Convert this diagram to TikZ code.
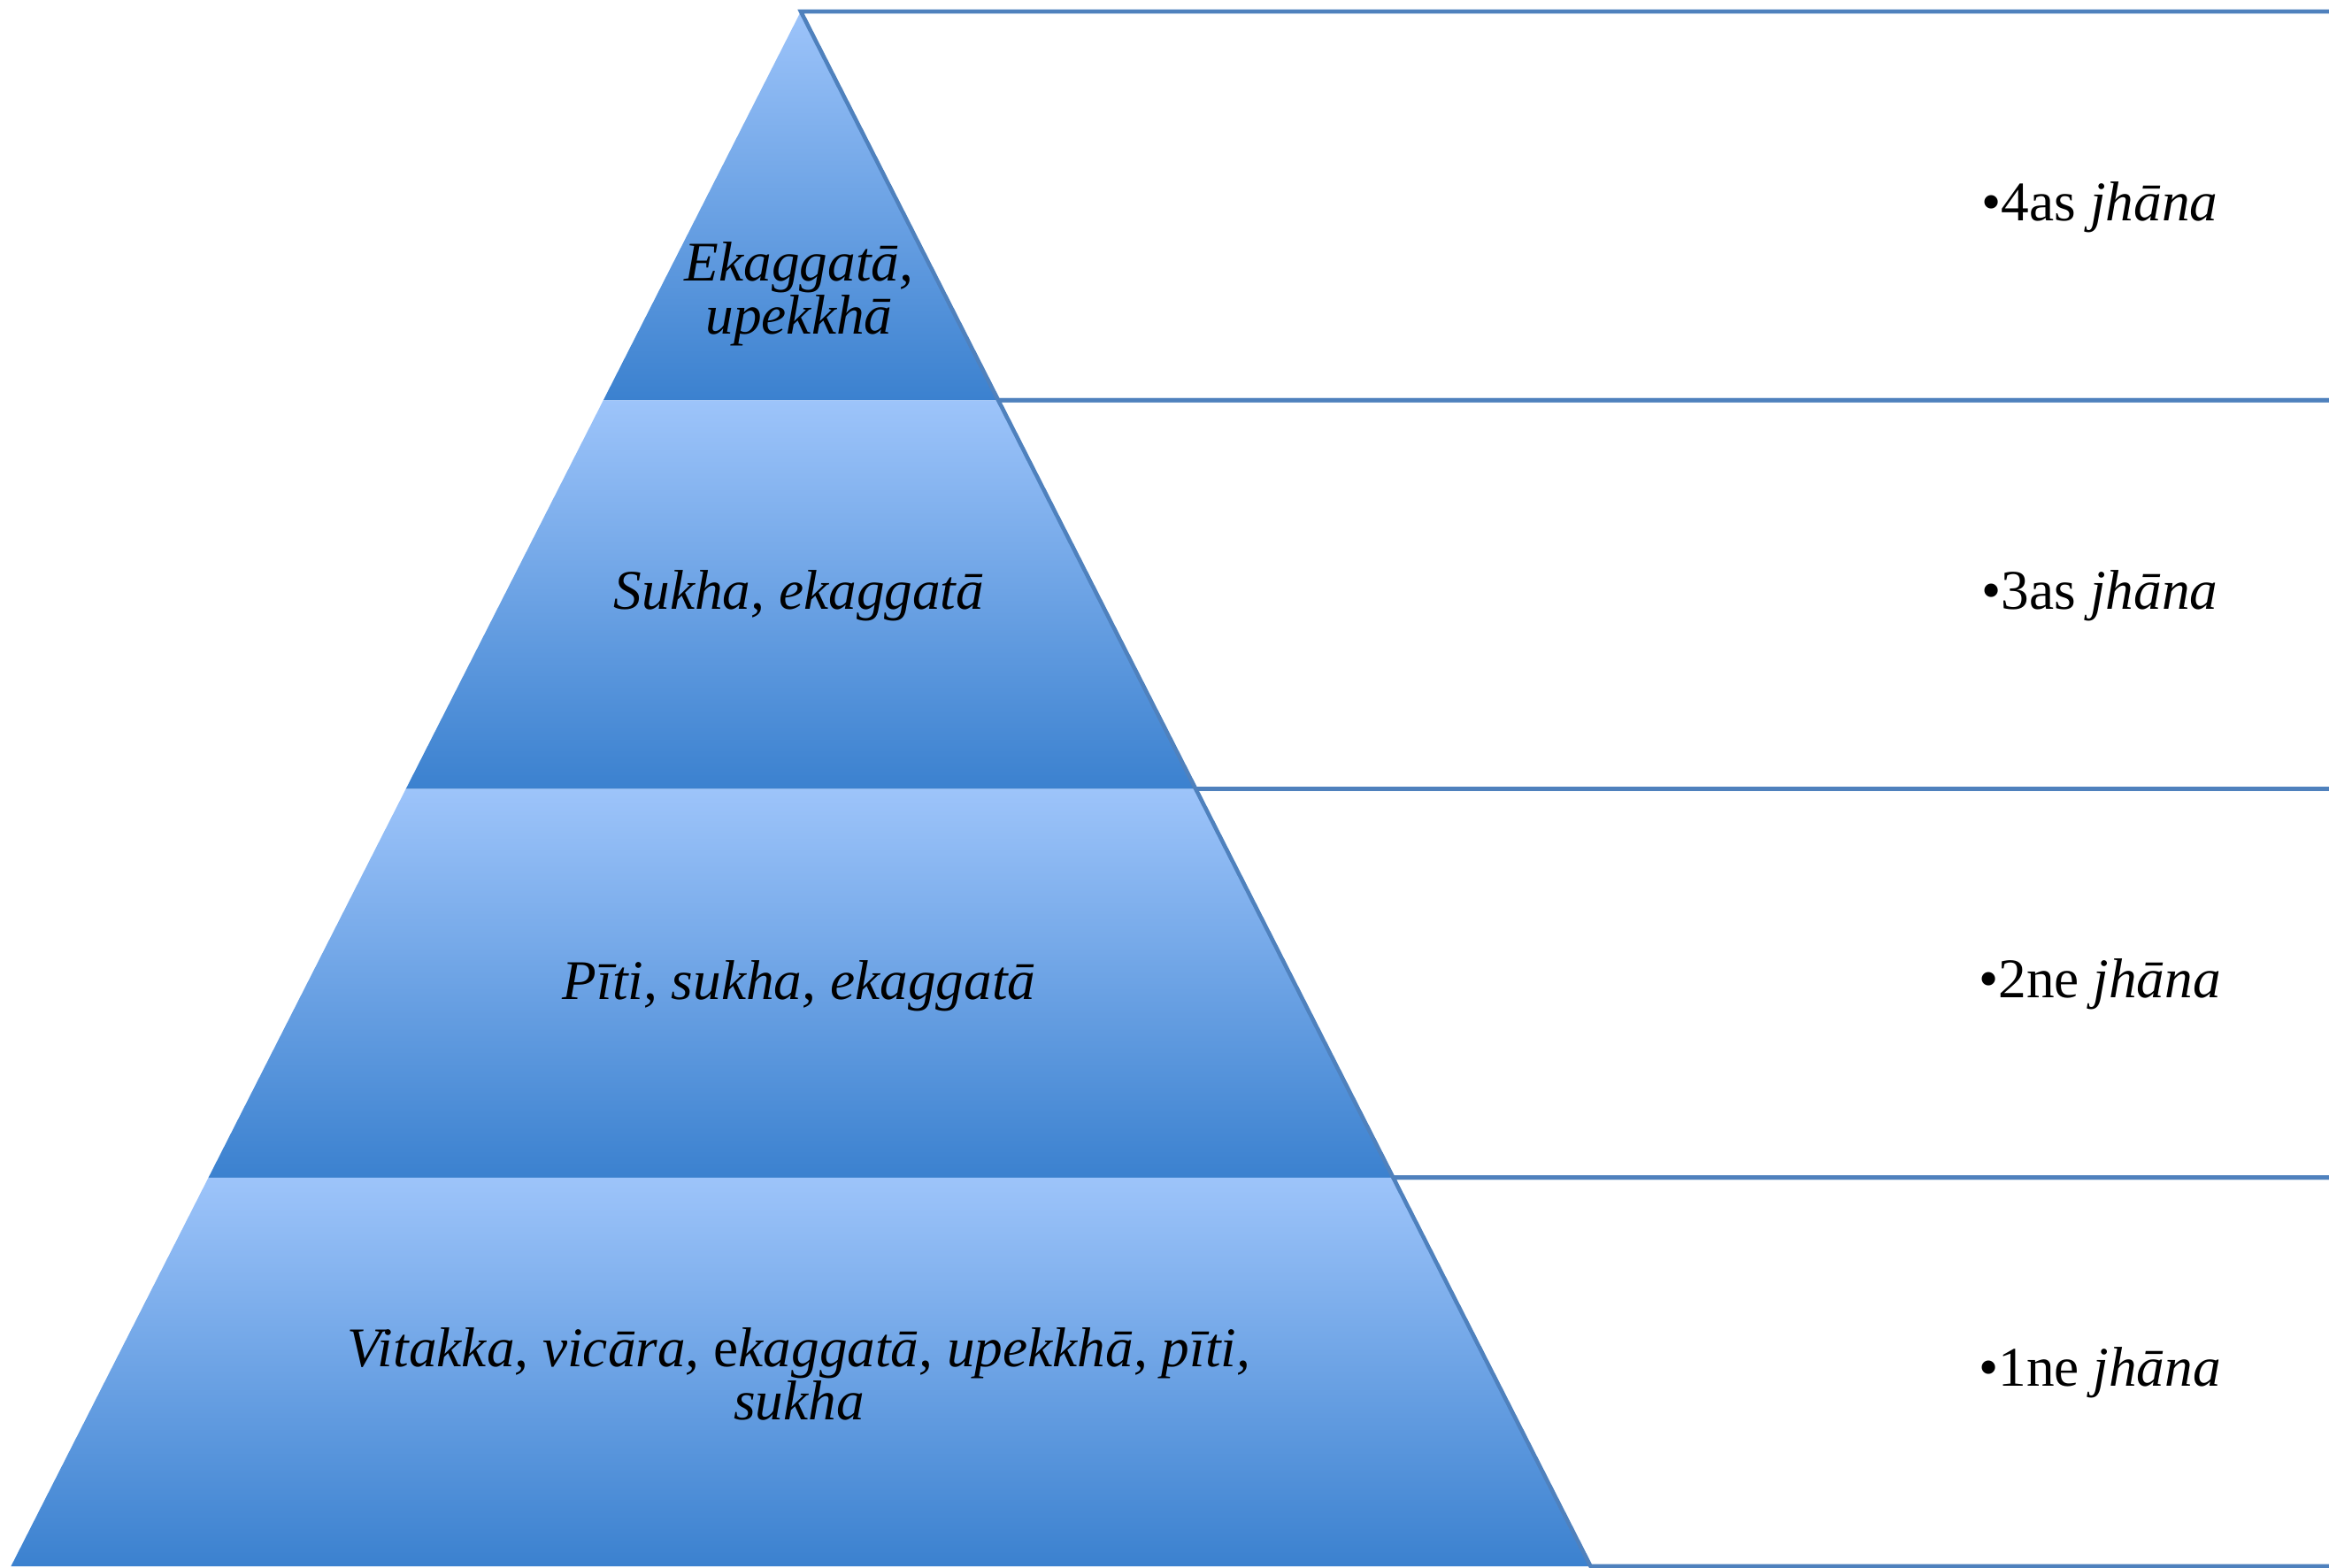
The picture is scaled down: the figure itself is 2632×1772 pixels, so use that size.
\documentclass[tikz,border=0pt]{standalone}
\usepackage{fontspec}
\setmainfont{Liberation Serif}
\usetikzlibrary{positioning}
\definecolor{boxline}{HTML}{4F81BD}
\definecolor{segtop}{HTML}{9DC4FA}
\definecolor{segmid}{HTML}{86B6F2}
\definecolor{segbot}{HTML}{3B81CF}

\begin{document}
\begin{tikzpicture}
    % styles: segment text, list text, list box
    [x=0.01cm,y=-0.01cm,
    SegText/.style={align=center, font=\fontsize{18}{17}\selectfont\itshape},
    ListText/.style={font=\fontsize{18}{17}\selectfont},
    ListBox/.style={draw=boxline, line width=1.3pt, line join=miter},
    SegFill/.style={top color=segtop, middle color=segmid, bottom color=segbot}]

    \useasboundingbox (0,0) rectangle (2632,1772);

    % pyramid segments, each with its list box on the right
    \foreach \i in {0,...,3}
    {
        \pgfmathsetmacro\ya{13+439.25*\i}
        \pgfmathsetmacro\yb{\ya+439.25}
        \pgfmathsetmacro\wa{0.508*(\ya-13)}
        \pgfmathsetmacro\wb{0.508*(\yb-13)}
        \shade[SegFill] (905-\wa,\ya) -- (905+\wa,\ya) -- (905+\wb,\yb) -- (905-\wb,\yb) -- cycle;
        \draw[ListBox] (905+\wa,\ya) -- (2645,\ya) -- (2645,\yb) -- (905+\wb,\yb) -- cycle;
    }

    % segment texts
    \node[SegText] (seg_4) at (903,332) {Ekaggatā,\\upekkhā};
    \node[SegText] (seg_3) at (903,673) {Sukha, ekaggatā};
    \node[SegText] (seg_2) at (903,1114) {Pīti, sukha, ekaggatā};
    \node[SegText] (seg_1) at (903,1553) {Vitakka, vicāra, \textup{e}\textit{kaggatā}, upekkhā, pīti,\\sukha};

    % list texts
    \foreach \i/\n in {0/4as,1/3as,2/2ne,3/1ne}
    \node[ListText] (jh_\i) at (2373,234+439.25*\i) {•\n{} \textit{jhāna}};

\end{tikzpicture}
\end{document}
